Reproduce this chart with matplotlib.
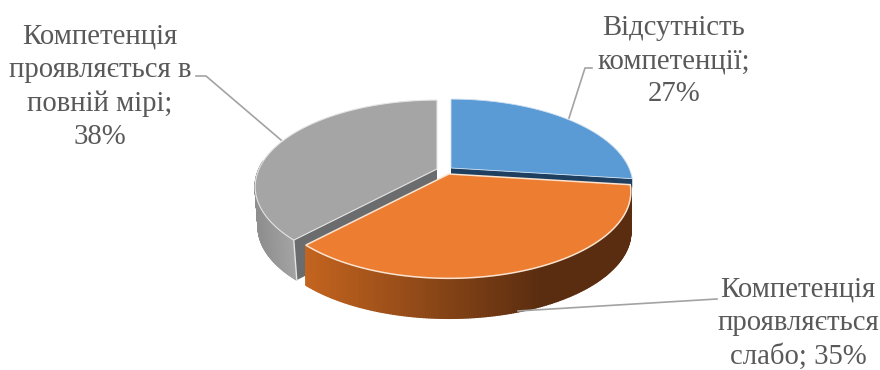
import numpy as np
import matplotlib
matplotlib.use("Agg")
import matplotlib.pyplot as plt
from matplotlib.colors import to_rgb

plt.rcParams['font.family'] = ['Liberation Serif', 'DejaVu Serif']

categories = ["Відсутність\nкомпетенції;\n27%",
              "Компетенція\nпроявляється\nслабо; 35%",
              "Компетенція\nпроявляється в\nповній мірі;\n38%"]
values = [27, 35, 38]
top_colors = ["#5b9bd5", "#ed7d31", "#a5a5a5"]
inner_colors = ["#1f3f60", "#7a4018", "#6a6c6e"]

R, RY, K, DEPTH = 178.0, 83.0, 0.2045, 40.0
apex = [(451, 168), (449, 174), (437, 169)]


def project(c, theta):
    u, v = np.sin(theta), np.cos(theta)
    d = 1 + K * v
    return c[0] + R * u / d, c[1] - RY * v / d


def arc(c, a0, a1, n=160):
    return project(c, np.linspace(a0, a1, n))


def mix(a, b, t):
    a, b = np.array(to_rgb(a)), np.array(to_rgb(b))
    return tuple(a + (b - a) * t)


def side(ax, c, a0, a1, left, right, xl, xr, z, shift=0.0):
    x, y = arc(c, a0, a1, 200)
    for i in range(len(x) - 1):
        t = np.clip(((x[i] + x[i + 1]) / 2 - xl) / (xr - xl), 0, 1)
        col = mix(left, right, t)
        ax.fill([x[i], x[i + 1], x[i + 1] + shift, x[i] + shift],
                [y[i], y[i + 1], y[i + 1] + DEPTH, y[i] + DEPTH],
                facecolor=col, edgecolor=col, lw=1.0, zorder=z)


fig = plt.figure(figsize=(8.8, 3.7), dpi=100)
ax = fig.add_axes([0, 0, 1, 1])
ax.set_xlim(0, 880)
ax.set_ylim(370, 0)
ax.axis("off")

edges = 2 * np.pi * np.cumsum([0] + values) / sum(values)
a = list(zip(edges[:-1], edges[1:]))

# gray slice
c = apex[2]
side(ax, c, a[2][0], 1.5 * np.pi + 0.1, "#8f8f8f", "#a8a8a8", 258, 300, 1, shift=3)
ex, ey = project(c, a[2][0])
ax.fill([c[0], ex, ex + 3, c[0]], [c[1], ey, ey + DEPTH, c[1] + DEPTH],
        color=inner_colors[2], lw=0, zorder=2)
ax.plot([ex, ex + 3], [ey, ey + DEPTH], color="#e4e4e4", lw=1, zorder=2.5)
x, y = arc(c, a[2][0], a[2][1])
ax.fill(np.r_[c[0], x], np.r_[c[1], y], facecolor=top_colors[2],
        edgecolor="#e4e4e4", lw=0.8, zorder=3)

# blue slice (only a narrow strip of its cut face shows above the orange slice)
c = apex[0]
ex, ey = project(c, a[0][1])
strip = DEPTH * 0.22
ax.fill([c[0], ex, ex, c[0]], [c[1], ey, ey + strip, c[1] + strip],
        color=inner_colors[0], lw=0, zorder=4)
x, y = arc(c, a[0][0], a[0][1])
ax.fill(np.r_[c[0], x], np.r_[c[1], y], facecolor=top_colors[0],
        edgecolor="#cfe0f0", lw=0.6, zorder=5)

# orange slice
c = apex[1]
side(ax, c, a[1][0], a[1][1], "#c4641f", "#5a2d10", 305, 540, 6)
x, y = arc(c, a[1][0], a[1][1])
ax.fill(np.r_[c[0], x], np.r_[c[1], y], facecolor=top_colors[1],
        edgecolor="#fbe3cf", lw=1.1, zorder=7)

# leader lines
lc = "#a3a3a3"
ax.plot([569, 585, 592], [118, 68, 68], color=lc, lw=1.2, zorder=0)
ax.plot([518, 717], [311, 299], color=lc, lw=1.2, zorder=8)
ax.plot([196, 206, 281], [76, 76, 140], color=lc, lw=1.2, zorder=0)

# labels
tc = "#595959"
for (lab, xc, yc) in zip(categories, [674, 798, 100], [61, 323.5, 87]):
    ax.text(xc, yc, lab, ha="center", va="center", color=tc, fontsize=20.7,
            linespacing=1.37)

fig.savefig("out.png", dpi=100, facecolor="white")
